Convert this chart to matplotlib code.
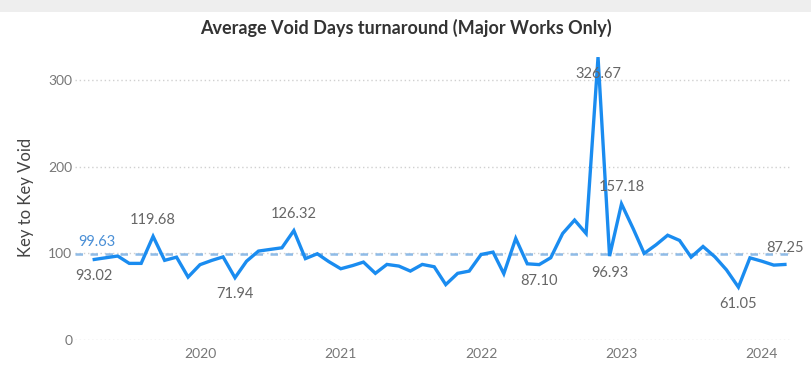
import matplotlib
matplotlib.use("Agg")
import matplotlib.pyplot as plt
from matplotlib.patches import Rectangle
import pandas as pd

plt.rcParams['font.family'] = ['Lato', 'DejaVu Sans']

# monthly average key-to-key void days, Apr 2019 .. Mar 2024
months = pd.date_range('2019-04-01', '2024-03-01', freq='MS')
void_days = [
    93.02, 95.0, 97.0, 88.5, 88.5, 119.68, 92.0, 95.7, 72.7,           # 2019
    87.0, 92.0, 96.0, 71.94, 91.0, 102.7, 104.6, 106.5, 126.32, 94.0, 99.6, 90.5,  # 2020
    82.3, 86.0, 90.0, 77.0, 87.3, 85.4, 79.6, 87.3, 84.6, 64.0, 77.0, 79.6,        # 2021
    98.8, 101.5, 76.6, 117.3, 88.0, 87.10, 95.0, 123.0, 138.5, 123.0, 326.67, 96.93,  # 2022
    157.18, 128.0, 100.0, 110.0, 121.0, 115.0, 95.7, 108.0, 96.0, 81.0, 61.05, 94.9,  # 2023
    91.0, 86.5, 87.25,                                                   # 2024
]
average = 99.63

# points that carry a data label: (value, position)
labelled = {93.02: 'below', 119.68: 'above', 71.94: 'below', 126.32: 'above',
            87.10: 'below', 326.67: 'peak', 96.93: 'below', 157.18: 'above',
            61.05: 'below', 87.25: 'above'}

yticks = [0, 100, 200, 300]
years = ['2020', '2021', '2022', '2023', '2024']

LINE = '#1a8cf0'
GREY = '#666666'

fig = plt.figure(figsize=(8.11, 3.76), dpi=100, facecolor='white')
fig.patches.append(Rectangle((0, 0.968), 1, 0.032, transform=fig.transFigure,
                             facecolor='#eeeeee', edgecolor='none'))
ax = fig.add_axes([0.0925, 0.0957, 0.882, 0.76])

ax.plot(months, void_days, color=LINE, linewidth=2.4, solid_joinstyle='miter', zorder=3)
ax.axhline(average, color='#8fbbe6', linestyle=(0, (3, 3)), linewidth=1.8, zorder=2)
ax.text(0.005, average + 6, f'{average:.2f}', transform=ax.get_yaxis_transform(),
        color='#4a8fd6', fontsize=10.5, ha='left', va='bottom')

for d, v in zip(months, void_days):
    pos = labelled.get(round(v, 2))
    if pos is None:
        continue
    if pos == 'above':
        ax.annotate(f'{v:.2f}', (d, v), xytext=(0, 7), textcoords='offset points',
                    ha='center', va='bottom', color=GREY, fontsize=10.5)
    elif pos == 'below':
        ax.annotate(f'{v:.2f}', (d, v), xytext=(0, -7), textcoords='offset points',
                    ha='center', va='top', color=GREY, fontsize=10.5)
    else:
        ax.annotate(f'{v:.2f}', (d, v), xytext=(0, -12), textcoords='offset points',
                    ha='center', va='center', color=GREY, fontsize=10.5)

ax.set_ylim(0, 330)
ax.set_yticks(yticks)
ax.set_yticklabels([str(t) for t in yticks])
ax.set_xlim(pd.Timestamp('2019-02-10'), pd.Timestamp('2024-03-15'))
ax.set_xticks([pd.Timestamp(f'{y}-01-01') for y in years])
ax.set_xticklabels(years)
ax.tick_params(axis='both', length=0, colors='#777777', labelsize=10)
ax.tick_params(axis='x', pad=6)
ax.tick_params(axis='y', pad=2)
ax.grid(axis='y', linestyle=(0, (1, 2)), color='#d0d0d0', linewidth=1)
ax.grid(axis='x', visible=False)
for s in ax.spines.values():
    s.set_visible(False)

ax.set_ylabel('Key to Key Void', fontsize=12, color='#444444', labelpad=10)
fig.text(0.5, 0.927, 'Average Void Days turnaround (Major Works Only)',
         ha='center', va='center', fontsize=13, fontweight='bold', color='#333333')

fig.savefig('out.png', dpi=100)
